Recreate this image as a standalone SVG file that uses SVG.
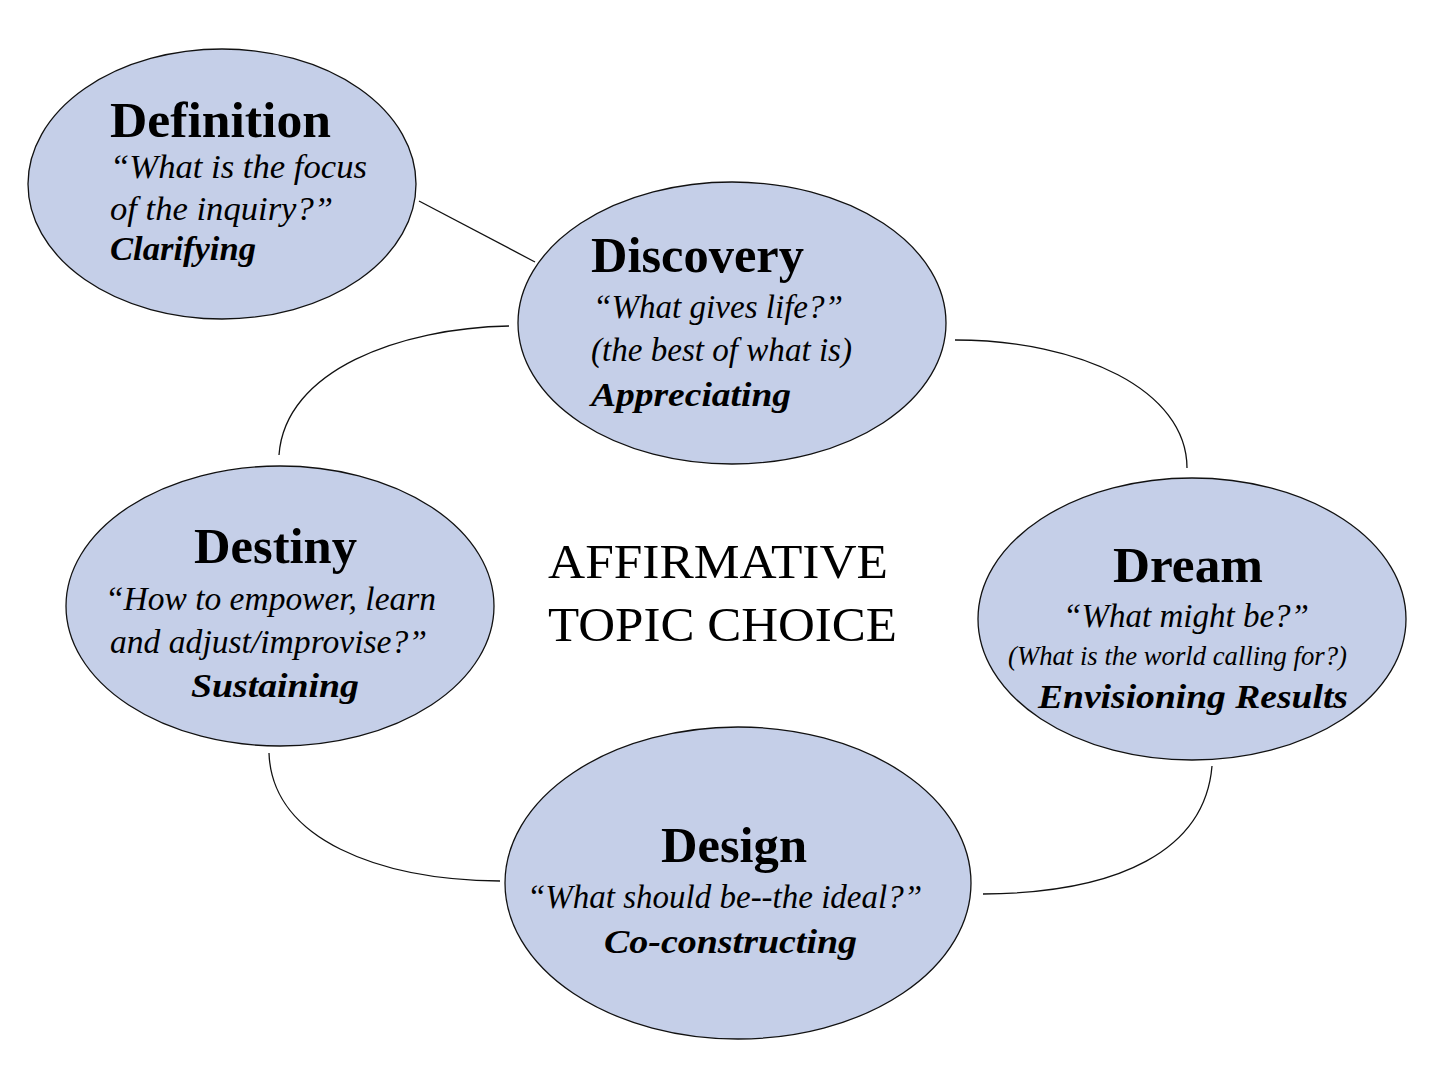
<svg xmlns="http://www.w3.org/2000/svg" width="1440" height="1092" viewBox="0 0 1440 1092">
<style>
.node{fill:#C5CFE8;stroke:#111;stroke-width:1.3}
.conn{fill:none;stroke:#111;stroke-width:1.3}
text{font-family:"Liberation Serif","Times New Roman",serif;fill:#000}
.t{font-weight:bold;font-size:50px}
.q{font-style:italic;font-size:34px}
.s{font-style:italic;font-weight:bold;font-size:34px}
.c{font-size:48px}
</style>
<rect width="1440" height="1092" fill="#fff"/>
<g id="connectors">
<path class="conn" d="M419,201 L535,262"/>
<path class="conn" d="M955,340 C1080,340 1187,390 1187,468"/>
<path class="conn" d="M1212,766 C1205,850 1120,893 983,894"/>
<path class="conn" d="M500,881 C380,880 272,840 269,753"/>
<path class="conn" d="M279,455 C285,370 400,328 509,326"/>
</g>
<g id="definition">
<ellipse class="node" cx="222" cy="184" rx="194" ry="135"/>
<text class="t" x="110" y="137" textLength="221" lengthAdjust="spacingAndGlyphs">Definition</text>
<text class="q" x="110" y="178" textLength="257" lengthAdjust="spacingAndGlyphs">“What is the focus</text>
<text class="q" x="110" y="220" textLength="223" lengthAdjust="spacingAndGlyphs">of the inquiry?”</text>
<text class="s" x="110" y="260" textLength="146" lengthAdjust="spacingAndGlyphs">Clarifying</text>
</g>
<g id="discovery">
<ellipse class="node" cx="732" cy="323" rx="214" ry="141"/>
<text class="t" x="591" y="272" textLength="213" lengthAdjust="spacingAndGlyphs">Discovery</text>
<text class="q" x="593" y="318" textLength="250" lengthAdjust="spacingAndGlyphs">“What gives life?”</text>
<text class="q" x="591" y="361" textLength="261" lengthAdjust="spacingAndGlyphs">(the best of what is)</text>
<text class="s" x="591" y="406" textLength="200" lengthAdjust="spacingAndGlyphs">Appreciating</text>
</g>
<g id="dream">
<ellipse class="node" cx="1192" cy="619" rx="214" ry="141"/>
<text class="t" x="1113" y="582" textLength="150" lengthAdjust="spacingAndGlyphs">Dream</text>
<text class="q" x="1063" y="627" textLength="246" lengthAdjust="spacingAndGlyphs">“What might be?”</text>
<text class="q" x="1008" y="665" style="font-size:27px" textLength="339" lengthAdjust="spacingAndGlyphs">(What is the world calling for?)</text>
<text class="s" x="1038" y="708" textLength="310" lengthAdjust="spacingAndGlyphs">Envisioning Results</text>
</g>
<g id="design">
<ellipse class="node" cx="738" cy="883" rx="233" ry="156"/>
<text class="t" x="661" y="862" textLength="146" lengthAdjust="spacingAndGlyphs">Design</text>
<text class="q" x="527" y="908" textLength="395" lengthAdjust="spacingAndGlyphs">“What should be--the ideal?”</text>
<text class="s" x="604" y="953" textLength="253" lengthAdjust="spacingAndGlyphs">Co-constructing</text>
</g>
<g id="destiny">
<ellipse class="node" cx="280" cy="606" rx="214" ry="140"/>
<text class="t" x="194" y="563" textLength="163" lengthAdjust="spacingAndGlyphs">Destiny</text>
<text class="q" x="105" y="610" textLength="331" lengthAdjust="spacingAndGlyphs">“How to empower, learn</text>
<text class="q" x="110" y="653" textLength="317" lengthAdjust="spacingAndGlyphs">and adjust/improvise?”</text>
<text class="s" x="191" y="697" textLength="168" lengthAdjust="spacingAndGlyphs">Sustaining</text>
</g>
<g id="center">
<text class="c" x="548" y="578" textLength="340" lengthAdjust="spacingAndGlyphs">AFFIRMATIVE</text>
<text class="c" x="548" y="641" textLength="349" lengthAdjust="spacingAndGlyphs">TOPIC CHOICE</text>
</g>
</svg>
